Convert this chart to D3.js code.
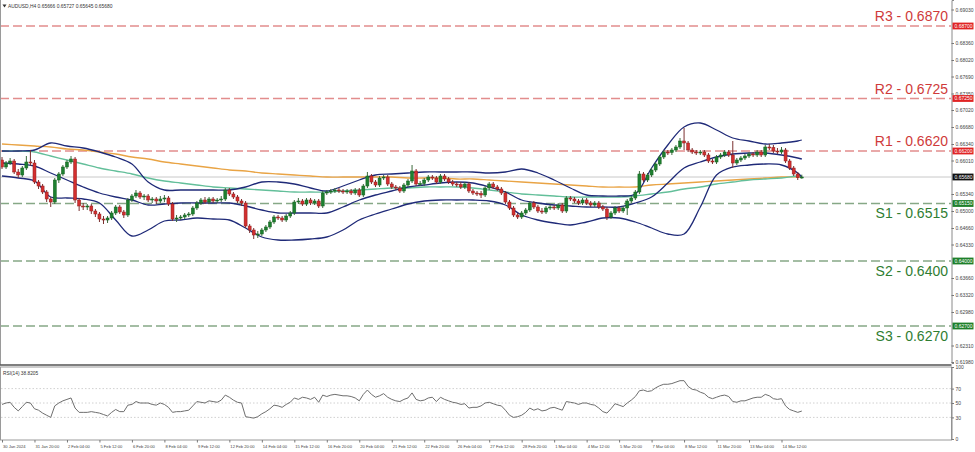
<!DOCTYPE html>
<html><head><meta charset="utf-8">
<script src="https://cdn.jsdelivr.net/npm/d3@7"></script>
<style>
body{margin:0;background:#fff}
svg{display:block;font-family:"Liberation Sans",Arial,sans-serif}
</style>
</head><body>
<svg id="c" width="975" height="452"></svg>
<script>
const symbolTitle = "AUDUSD,H4";
const lastBar = [0.65666, 0.65727, 0.65645, 0.65680];
const opens=[.6602,.6588,.6596,.6600,.6578,.6572,.6586,.6598,.6596,.6558,
.6550,.6538,.6524,.6518,.6562,.6574,.6588,.6598,.6604,.6522,
.6510,.6508,.6510,.6500,.6494,.6484,.6482,.6486,.6496,.6508,
.6498,.6492,.6522,.6530,.6536,.6528,.6530,.6522,.6524,.6520,
.6524,.6526,.6514,.6484,.6486,.6488,.6492,.6494,.6506,.6516,
.6522,.6518,.6524,.6520,.6522,.6524,.6542,.6534,.6528,.6520,
.6516,.6470,.6462,.6452,.6454,.6462,.6468,.6478,.6488,.6486,
.6482,.6490,.6496,.6518,.6520,.6514,.6522,.6516,.6520,.6510,
.6536,.6538,.6540,.6542,.6540,.6538,.6540,.6536,.6542,.6532,
.6550,.6570,.6558,.6552,.6566,.6568,.6554,.6548,.6546,.6540,
.6552,.6560,.6580,.6554,.6555,.6562,.6568,.6566,.6558,.6570,
.6564,.6558,.6554,.6553,.6548,.6554,.6540,.6536,.6535,.6532,
.6546,.6554,.6548,.6544,.6536,.6518,.6506,.6492,.6488,.6496,
.6502,.6516,.6508,.6500,.6498,.6506,.6508,.6506,.6512,.6500,
.6526,.6524,.6520,.6516,.6522,.6516,.6512,.6516,.6508,.6504,
.6488,.6496,.6506,.6500,.6506,.6520,.6526,.6538,.6574,.6562,
.6572,.6582,.6594,.6608,.6618,.6617,.6622,.6628,.6640,.6636,
.6622,.6618,.6616,.6618,.6612,.6600,.6598,.6608,.6612,.6618,
.6612,.6596,.6602,.6606,.6610,.6614,.6612,.6618,.6612,.6628,
.6627,.6620,.6618,.6622,.6600,.6586,.6574,.65666];
const highs=[.6608,.6600,.6606,.6604,.6584,.6590,.6610,.6622,.6602,.6562,
.6554,.6542,.6528,.6566,.6578,.6592,.6602,.6610,.6608,.6526,
.6516,.6514,.6514,.6504,.6498,.6490,.6490,.6500,.6512,.6512,
.6502,.6526,.6534,.6542,.6540,.6534,.6534,.6528,.6528,.6530,
.6532,.6530,.6518,.6492,.6492,.6496,.6498,.6510,.6520,.6526,
.6528,.6528,.6528,.6526,.6530,.6546,.6546,.6538,.6532,.6524,
.6520,.6474,.6466,.6460,.6466,.6472,.6482,.6492,.6492,.6490,
.6494,.6500,.6522,.6526,.6524,.6526,.6526,.6524,.6524,.6540,
.6542,.6544,.6546,.6546,.6544,.6544,.6544,.6546,.6546,.6554,
.6578,.6574,.6562,.6570,.6572,.6572,.6558,.6552,.6550,.6556,
.6564,.6592,.6584,.6560,.6566,.6572,.6572,.6570,.6574,.6574,
.6568,.6562,.6558,.6558,.6558,.6558,.6544,.6540,.6540,.6550,
.6558,.6558,.6552,.6548,.6540,.6522,.6510,.6496,.6500,.6506,
.6520,.6520,.6512,.6506,.6510,.6512,.6512,.6516,.6516,.6530,
.6530,.6528,.6524,.6526,.6526,.6520,.6520,.6520,.6512,.6508,
.6500,.6510,.6510,.6510,.6524,.6530,.6542,.6580,.6578,.6576,
.6586,.6598,.6612,.6622,.6622,.6626,.6632,.6646,.6666,.6640,
.6626,.6622,.6622,.6622,.6616,.6604,.6612,.6616,.6622,.6622,
.6640,.6606,.6610,.6614,.6618,.6618,.6622,.6622,.6632,.6634,
.6632,.6626,.6628,.6626,.6604,.6590,.6578,.65727];
const lows=[.6584,.6584,.6592,.6574,.6566,.6568,.6582,.6590,.6554,.6544,
.6534,.6518,.6508,.6514,.6556,.6570,.6584,.6594,.6516,.6500,
.6502,.6502,.6494,.6488,.6478,.6474,.6476,.6482,.6492,.6494,
.6486,.6488,.6518,.6526,.6524,.6522,.6518,.6516,.6514,.6516,
.6518,.6510,.6480,.6478,.6482,.6484,.6488,.6490,.6502,.6512,
.6514,.6514,.6516,.6516,.6518,.6520,.6530,.6524,.6516,.6510,
.6466,.6456,.6444,.6446,.6450,.6458,.6464,.6474,.6482,.6478,
.6478,.6486,.6492,.6514,.6510,.6510,.6512,.6512,.6506,.6506,
.6532,.6534,.6536,.6536,.6534,.6534,.6532,.6532,.6528,.6528,
.6546,.6554,.6548,.6548,.6562,.6550,.6544,.6542,.6536,.6536,
.6548,.6556,.6550,.6550,.6550,.6558,.6562,.6554,.6554,.6560,
.6554,.6550,.6548,.6544,.6544,.6536,.6532,.6530,.6526,.6528,
.6542,.6544,.6540,.6532,.6514,.6502,.6488,.6484,.6484,.6492,
.6498,.6504,.6496,.6494,.6494,.6502,.6502,.6502,.6496,.6496,
.6520,.6516,.6512,.6512,.6512,.6508,.6508,.6504,.6500,.6482,
.6484,.6492,.6496,.6496,.6492,.6516,.6522,.6534,.6558,.6558,
.6568,.6578,.6590,.6604,.6612,.6612,.6618,.6624,.6622,.6618,
.6614,.6612,.6612,.6608,.6596,.6594,.6594,.6604,.6608,.6608,
.6586,.6592,.6598,.6602,.6606,.6608,.6608,.6608,.6608,.6622,
.6616,.6614,.6614,.6596,.6582,.6570,.6562,.65645];
const closes=[.6588,.6596,.6600,.6578,.6572,.6586,.6598,.6596,.6558,.6550,
.6538,.6524,.6518,.6562,.6574,.6588,.6598,.6604,.6522,.6510,
.6508,.6510,.6500,.6494,.6484,.6482,.6486,.6496,.6508,.6498,
.6492,.6522,.6530,.6536,.6528,.6530,.6522,.6524,.6520,.6524,
.6526,.6514,.6484,.6486,.6488,.6492,.6494,.6506,.6516,.6522,
.6518,.6524,.6520,.6522,.6524,.6542,.6534,.6528,.6520,.6516,
.6470,.6462,.6452,.6454,.6462,.6468,.6478,.6488,.6486,.6482,
.6490,.6496,.6518,.6520,.6514,.6522,.6516,.6520,.6510,.6536,
.6538,.6540,.6542,.6540,.6538,.6540,.6536,.6542,.6532,.6550,
.6570,.6558,.6552,.6566,.6568,.6554,.6548,.6546,.6540,.6552,
.6560,.6580,.6554,.6555,.6562,.6568,.6566,.6558,.6570,.6564,
.6558,.6554,.6553,.6548,.6554,.6540,.6536,.6535,.6532,.6546,
.6554,.6548,.6544,.6536,.6518,.6506,.6492,.6488,.6496,.6502,
.6516,.6508,.6500,.6498,.6506,.6508,.6506,.6512,.6500,.6526,
.6524,.6520,.6516,.6522,.6516,.6512,.6516,.6508,.6504,.6488,
.6496,.6506,.6500,.6506,.6520,.6526,.6538,.6574,.6562,.6572,
.6582,.6594,.6608,.6618,.6617,.6622,.6628,.6640,.6636,.6622,
.6618,.6616,.6618,.6612,.6600,.6598,.6608,.6612,.6618,.6612,
.6596,.6602,.6606,.6610,.6614,.6612,.6618,.6612,.6628,.6627,
.6620,.6618,.6622,.6600,.6586,.6574,.65666,.65680];
const rsiValues=[48,50,51,44,39,45,51,50,42,40,
36,33,30,46,50,53,55,57,43,37,
37,37,38,37,36,34,32,37,41,38,
38,47,48,52,50,50,50,48,47,50,
48,44,37,38,38,39,40,46,52,51,
50,53,52,51,54,61,58,54,51,50,
31,30,29,31,35,38,42,47,46,44,
48,51,57,55,58,57,55,58,51,61,
59,61,62,61,60,60,59,57,53,62,
68,62,58,60,63,58,55,53,52,55,
57,64,55,53,54,57,58,52,58,55,
53,51,50,48,49,43,44,44,46,50,
51,49,47,46,40,33,30,31,33,37,
43,40,42,39,40,43,44,42,40,52,
51,50,48,50,50,48,47,43,38,36,
42,49,47,45,50,54,59,67,68,66,
67,71,74,76,76,77,79,81,81,73,
69,68,65,63,58,56,58,60,61,59,
52,51,53,53,55,57,58,58,62,60,
56,55,56,46,41,39,37,38.8205];
const rsiLast = "38.8205";
// indicator lines, sampled every 4 bars (+ last bar)
const lineBars=[0,4,8,12,16,20,24,28,32,36,40,44,48,52,56,60,64,68,72,76,80,84,88,92,96,100,104,108,112,116,120,124,128,132,136,140,144,148,152,156,160,164,168,172,176,180,184,188,192,196,197];
const bbUpper=[.6620,.6620,.6622,.6636,.6630,.6626,.6618,.6608,.6594,.6558,.6542,.6542,.6542,.6542,.6542,.6548,.6558,.6558,.6554,.6546,.6540,.6550,.6562,.6572,.6574,.6576,.6578,.6578,.6578,.6578,.6576,.6578,.6584,.6576,.6562,.6546,.6532,.6530,.6530,.6534,.6586,.6632,.6668,.6676,.6662,.6646,.6640,.6634,.6636,.6640,.6642];
const bbMiddle=[.6596,.6594,.6590,.6576,.6562,.6548,.6536,.6528,.6522,.6512,.6514,.6516,.6516,.6516,.6516,.6510,.6502,.6496,.6496,.6496,.6496,.6508,.6522,.6532,.6540,.6548,.6552,.6556,.6558,.6556,.6548,.6538,.6522,.6516,.6512,.6510,.6508,.6508,.6508,.6516,.6528,.6556,.6586,.6598,.6608,.6614,.6616,.6616,.6612,.6606,.6604];
const bbLower=[.6570,.6566,.6560,.6528,.6526,.6524,.6516,.6482,.6450,.6462,.6480,.6482,.6486,.6484,.6482,.6466,.6448,.6442,.6442,.6444,.6448,.6462,.6482,.6494,.6504,.6514,.6520,.6522,.6522,.6522,.6520,.6512,.6492,.6482,.6476,.6472,.6478,.6486,.6486,.6478,.6466,.6454,.6454,.6508,.6572,.6588,.6592,.6594,.6592,.6576,.6568];
const maFast=[.6620,.6620,.6618,.6610,.6602,.6594,.6586,.6580,.6574,.6566,.6560,.6556,.6552,.6548,.6546,.6544,.6542,.6540,.6538,.6538,.6538,.6540,.6542,.6544,.6546,.6546,.6548,.6548,.6548,.6546,.6542,.6538,.6534,.6532,.6530,.6528,.6528,.6528,.6528,.6530,.6534,.6538,.6544,.6548,.6554,.6558,.6562,.6564,.6566,.6570,.6570];
const maSlow=[.6634,.6632,.6630,.6628,.6624,.6622,.6618,.6614,.6608,.6604,.6598,.6594,.6590,.6586,.6582,.6580,.6576,.6574,.6572,.6570,.6568,.6568,.6568,.6568,.6568,.6566,.6566,.6566,.6564,.6564,.6562,.6560,.6558,.6556,.6554,.6552,.6550,.6548,.6548,.6548,.6552,.6554,.6556,.6558,.6560,.6562,.6564,.6566,.6568,.6568,.6568];
// visible price-scale labels (those hidden under the coloured level tags are left out)
const priceTicks=[0.69030,0.68360,0.68020,0.67690,0.67350,0.67020,0.66680,0.66340,0.66010,0.65340,0.65000,0.64660,0.64330,0.63660,0.63320,0.62980,0.62310,0.61980];
const rsiTicks=[100,70,50,30,0];
const rsiLevels=[70,50,30];
const dateBars=[0,8,16,24,32,40,48,56,64,72,80,88,96,104,112,120,128,136,144,152,160,168,176,184,192];
const dateLabels=["30 Jan 2024","31 Jan 20:00","2 Feb 04:00","5 Feb 12:00","6 Feb 20:00","8 Feb 04:00","9 Feb 12:00","12 Feb 20:00","14 Feb 04:00","15 Feb 12:00","16 Feb 20:00","20 Feb 04:00","21 Feb 12:00","22 Feb 20:00","26 Feb 04:00","27 Feb 12:00","28 Feb 20:00","1 Mar 04:00","4 Mar 12:00","5 Mar 20:00","7 Mar 04:00","8 Mar 12:00","11 Mar 20:00","13 Mar 04:00","14 Mar 12:00"];
const levelNames=["R3","R2","R1","S1","S2","S3"];
const levelValues=[0.6870,0.6725,0.6620,0.6515,0.6400,0.6270];
const levelKinds=["r","r","r","s","s","s"];
const currentPrice=0.65680;

const svg=d3.select("#c");
const axisX=951.5;
const x=d3.scaleLinear().domain([0,197]).range([2,801.8]);
const y=d3.scaleLinear().domain([0.6922,0.6196]).range([0,363]);
const ry=d3.scaleLinear().domain([0,100]).range([439,367]);
const smallFont=5;

// frames
svg.append("line").attr("x1",0.5).attr("x2",0.5).attr("y1",0).attr("y2",365).attr("stroke","#9a9a9a");
svg.append("line").attr("x1",0).attr("x2",axisX).attr("y1",365).attr("y2",365).attr("stroke","#555").attr("stroke-width",1.5);
svg.append("rect").attr("x",0.5).attr("y",367).attr("width",axisX-0.5).attr("height",73).attr("fill","none").attr("stroke","#9a9a9a");

svg.append("clipPath").attr("id","cm").append("rect").attr("x",1).attr("y",0).attr("width",axisX-1.5).attr("height",364);
const main=svg.append("g").attr("clip-path","url(#cm)");

// current price line
main.append("line").attr("x1",0).attr("x2",axisX).attr("y1",y(currentPrice)).attr("y2",y(currentPrice)).attr("stroke","#c8c8c8").attr("stroke-width",1);

// levels
const rCol="#e28d8d", sCol="#86a886";
levelValues.forEach((v,i)=>{
  const isR=levelKinds[i]==="r";
  main.append("line").attr("x1",0).attr("x2",axisX).attr("y1",y(v)).attr("y2",y(v))
    .attr("stroke",isR?rCol:sCol).attr("stroke-width",1.3).attr("stroke-dasharray","9,4");
  main.append("text").attr("x",948).attr("y",isR?y(v)-5:y(v)+14.5).attr("text-anchor","end")
    .attr("font-size",14).attr("fill",isR?"#cf3a3a":"#2f7d32")
    .text(levelNames[i]+" - "+v.toFixed(4));
});

// indicator lines
function drawLine(vals,color,w){
  const ln=d3.line().x((d,i)=>x(lineBars[i])).y(d=>y(d)).curve(d3.curveCatmullRom.alpha(0.5));
  main.append("path").attr("d",ln(vals)).attr("fill","none").attr("stroke",color).attr("stroke-width",w);
}
drawLine(maSlow,"#e9a445",1.3);
drawLine(maFast,"#63bf9a",1.3);
drawLine(bbUpper,"#1f2a78",1.3);
drawLine(bbMiddle,"#1f2a78",1.3);
drawLine(bbLower,"#1f2a78",1.3);

// candles
const bars=d3.range(closes.length);
const cg=main.append("g");
cg.selectAll("line.w").data(bars).join("line").attr("class","w")
  .attr("x1",i=>x(i)).attr("x2",i=>x(i)).attr("y1",i=>y(highs[i])).attr("y2",i=>y(lows[i]))
  .attr("stroke",i=>closes[i]>=opens[i]?"#3d6b3d":"#7a3030").attr("stroke-width",1);
cg.selectAll("rect.b").data(bars).join("rect").attr("class","b")
  .attr("x",i=>x(i)-1.5).attr("width",3)
  .attr("y",i=>y(Math.max(opens[i],closes[i])))
  .attr("height",i=>Math.max(1,Math.abs(y(opens[i])-y(closes[i]))))
  .attr("fill",i=>closes[i]>=opens[i]?"#1d8030":"#d32f2f")
  .attr("stroke",i=>closes[i]>=opens[i]?"#17611f":"#8f1d1d").attr("stroke-width",0.5);

// price axis
const pa=svg.append("g").attr("transform",`translate(${axisX},0)`)
  .call(d3.axisRight(y).tickValues(priceTicks).tickSize(2.5).tickPadding(1.5).tickFormat(d3.format(".5f")));
pa.select(".domain").attr("stroke","#8a8a8a");
pa.selectAll(".tick line").attr("stroke","#777");
pa.selectAll("text").attr("font-size",smallFont).attr("fill","#444").attr("font-family","Liberation Sans, Arial");

// level tags
function tag(v,fill){
  const g=svg.append("g").attr("transform",`translate(${axisX+1},${y(v)})`);
  g.append("rect").attr("x",0).attr("y",-3.4).attr("width",21).attr("height",6.8).attr("fill",fill);
  g.append("text").attr("x",2).attr("y",1.8).attr("font-size",smallFont).attr("fill","#fff").text(v.toFixed(5));
}
levelValues.forEach((v,i)=>tag(v,levelKinds[i]==="r"?"#e02424":"#1e7f2a"));
tag(currentPrice,"#111");

// title
svg.append("path").attr("d","M2.5,4.5 L6.5,4.5 L4.5,7.5 Z").attr("fill","#333");
svg.append("text").attr("x",8).attr("y",7.5).attr("font-size",4.9).attr("fill","#333")
  .text(symbolTitle+" "+lastBar.map(d=>d.toFixed(5)).join(" "));

// RSI panel
const rp=svg.append("g");
rsiLevels.forEach(l=>rp.append("line").attr("x1",1).attr("x2",axisX).attr("y1",ry(l)).attr("y2",ry(l))
  .attr("stroke","#c4c4c4").attr("stroke-dasharray","1.5,2").attr("stroke-width",0.8));
rp.append("path").attr("d",d3.line().x((d,i)=>x(i)).y(d=>ry(d))(rsiValues))
  .attr("fill","none").attr("stroke","#6e6e6e").attr("stroke-width",1);
svg.append("text").attr("x",3).attr("y",374.5).attr("font-size",4.8).attr("fill","#333").text("RSI(14) "+rsiLast);
const ra=svg.append("g").attr("transform",`translate(${axisX},0)`)
  .call(d3.axisRight(ry).tickValues(rsiTicks).tickSize(2.5).tickPadding(1.5).tickFormat(d3.format("d")));
ra.select(".domain").attr("stroke","#8a8a8a");
ra.selectAll(".tick line").attr("stroke","#777");
ra.selectAll("text").attr("font-size",smallFont).attr("fill","#444").attr("font-family","Liberation Sans, Arial");

// date axis
const da=svg.append("g").attr("transform","translate(0,440)")
  .call(d3.axisBottom(x).tickValues(dateBars).tickSize(2.5).tickPadding(2.5).tickFormat((d,i)=>dateLabels[i]));
da.select(".domain").remove();
da.selectAll(".tick line").attr("stroke","#777");
da.selectAll("text").attr("text-anchor","start").attr("dx",0.5).attr("font-size",4.1).attr("fill","#444").attr("font-family","Liberation Sans, Arial");
</script>
</body></html>
